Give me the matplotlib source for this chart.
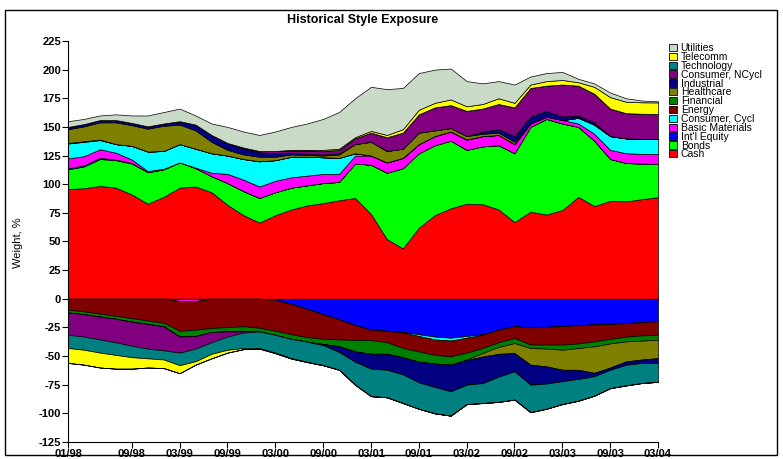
import numpy as np
import matplotlib.pyplot as plt
from matplotlib.patches import Patch, Rectangle

plt.rcParams['font.family'] = ['Liberation Sans', 'DejaVu Sans']
plt.rcParams['axes.unicode_minus'] = False

# months since 01/98, every second month up to 03/04
months = np.arange(0, 75, 2)

tick_months = [0, 8, 14, 20, 26, 32, 38, 44, 50, 56, 62, 68, 74]
tick_labels = ["01/98", "09/98", "03/99", "09/99", "03/00", "09/00", "03/01",
               "09/01", "03/02", "09/02", "03/03", "09/03", "03/04"]

labels = ["Cash", "Bonds", "Int'l Equity", "Basic Materials", "Consumer, Cycl",
          "Energy", "Financial", "Healthcare", "Industrial", "Consumer, NCycl",
          "Technology", "Telecomm", "Utilities"]
colors = ["#FF0000", "#00FF00", "#0000FF", "#FF00FF", "#00FFFF", "#800000",
          "#008000", "#808000", "#000080", "#800080", "#008080", "#FFFF00",
          "#C9DAC6"]

# long (positive) exposures
cash_long = [95.8, 96.5, 98.5, 97, 91, 83, 89, 97, 98, 93, 82, 73, 66.5, 73, 78, 81.5,
             83.5, 86, 88, 74, 52, 44, 62, 73, 79, 83, 82.5, 78, 67, 76, 73.5, 77.5,
             89, 81, 85.4, 85, 87, 88.7]
bonds_long = [17.2, 19, 23.5, 24, 27, 27.5, 24, 22, 16, 14, 19, 21, 21.5, 20, 19, 17.5,
              17.5, 16, 30, 43, 58, 70, 65, 61, 59, 47, 50.5, 56, 60, 74, 83.5, 75.5,
              61, 57, 36.6, 33.5, 31, 29]
intl_long = [1, 1, 1, 0.5, 0.5, 0, 0, 0, 0, 0, 0, 0, 0, 0, 0, 0, 0, 0, 0, 0,
             0, 0, 0, 0, 0, 0, 0, 0, 0, 0, 0, 0, 0, 0, 0, 0, 0, 0]
basic_long = [8.5, 8, 7.5, 6, 3, 1, 0.5, 0, 0.5, 3, 8, 10, 10, 10, 9, 8.5, 8, 7, 7, 8,
              9, 9, 8, 8, 8, 9, 9, 9, 8, 3, 2, 3, 3, 6, 8, 8.5, 8.5, 8.7]
cycl_long = [13, 12.5, 8, 7.5, 12, 17, 15.5, 16, 16.5, 17, 16, 18, 22, 18, 18, 16.5,
             14.5, 14, 2, 0, 0, 0, 0, 0, 0, 0, 0, 0, 0, 0, 0, 0, 5, 8, 12, 13, 13, 13]
energy_long = [0.5, 0.5, 0.5, 0, 0, 0, 0, 0, 0, 0, 0, 0, 0, 0, 0, 0, 0, 0, 0, 0,
               0, 0, 0, 0, 0, 0, 0, 0, 0, 0, 0, 0, 0, 0, 0, 0, 0, 0]
fin_long = [0] * 38
health_long = [12, 13, 15, 19, 18, 20, 22, 17, 16, 10, 5, 4, 4, 3, 2, 1.5, 1.5, 3, 8, 12,
               10, 8, 10, 5, 3, 3, 2, 2, 2, 0, 0, 0, 0, 0, 0, 0, 0, 0]
ind_long = [2, 2, 2, 2, 2, 2, 2, 3, 5, 6, 6, 5, 4, 3, 1.5, 1, 1, 1, 0, 0,
            0, 0, 0, 0, 0, 0, 2, 3, 5, 6, 5, 3, 2, 2, 0, 0, 0, 0]
ncycl_long = [0, 0, 0, 0, 0, 0, 0, 0, 0, 0, 0, 1, 1, 2, 2, 3, 3, 3, 5, 8,
              12, 14, 16, 20, 20, 22, 20, 22, 25, 25, 22, 28, 26, 25, 24, 22, 22, 22]
tech_long = [0] * 38
tel_long = [0, 0, 0, 0, 0, 0, 0, 0, 0, 0, 0, 0, 0, 0, 0.5, 0.5, 1, 1, 1, 1.5,
            2, 3, 4, 4, 5, 4, 4, 5, 4, 3, 4, 4, 3, 6, 10, 10, 10, 10]
util_long = [5, 4.5, 4, 5, 6.5, 9.5, 10, 11, 8, 10, 14, 14, 14, 17, 20, 23, 27, 32, 34, 38.5,
             40, 36, 32, 29, 27, 22, 18, 15, 16, 7, 7, 7, 3, 3, 4, 3, 1.5, 1]

# short (negative) exposures
cash_short = [0] * 38
bonds_short = [0] * 38
intl_short = [0, 0, 0, 0, 0, 0, 0, 0, 0, 0, 0, 0, 0, -1, -4.5, -9, -13.5, -18, -23, -27,
              -28, -29, -31, -33, -34, -32.5, -31, -27, -24, -25, -24.5, -24, -23, -22.5,
              -22, -21.3, -20.5, -19.5]
basic_short = [0, 0, 0, 0, 0, 0, 0, -2, -2, 0, 0, 0, 0, 0, 0, 0, 0, 0, 0, 0,
               0, 0, 0, 0, 0, 0, 0, 0, 0, 0, 0, 0, 0, 0, 0, 0, 0, 0]
cycl_short = [0, 0, 0, 0, 0, 0, 0, 0, 0, 0, 0, 0, 0, 0, 0, 0, 0, 0, 0, 0,
              0, -0.5, -1.5, -2.5, -2.5, -1.5, -0.5, 0, 0, 0, 0, 0, 0, 0, 0, 0, 0, 0]
energy_short = [-9.6, -11, -13, -15, -17, -19, -21, -26, -25, -25.5, -24.7, -24, -25.3, -27,
                -26.5, -24.5, -21.5, -17.5, -13, -9, -10, -13.5, -13.5, -13.5, -13.8, -13,
                -11.5, -11, -10.3, -15, -15.5, -16, -16, -14.7, -13, -11.7, -11.5, -11.9]
fin_short = [-2.4, -2.5, -2.5, -2.5, -3, -3, -3, -5, -5.5, -3.5, -3.8, -4.5, -3.2, -3.5, -4,
             -4, -4.5, -6, -10, -12, -10, -8, -9, -7.5, -7.2, -6, -4.4, -4, -4.4, -3, -3.5,
             -4.5, -4, -4.4, -4, -4.2, -4.5, -4.4]
health_short = [0, 0, 0, 0, 0, 0, 0, 0, 0, 0, 0, 0, 0, 0, 0, 0, 0, 0, 0, 0,
                0, 0, 0, 0, 0, -0.5, -3, -6, -8.7, -14.5, -15.5, -17.4, -19, -23, -21,
                -17.4, -16.5, -16]
ind_short = [0, 0, 0, 0, 0, 0, 0, 0, 0, 0, 0, 0, 0, 0, 0, 0, -1, -5, -9, -13,
             -14, -15, -18, -20.5, -23.3, -21.5, -23.2, -20, -16, -17.5, -15, -10, -8, -3,
             -2, -3, -3, -4.4]
ncycl_short = [-19.4, -19.5, -20, -20.5, -21, -21.5, -21, -14, -11, -9, -4.5, -1, 0, 0, 0,
               0, 0, 0, 0, 0, 0, 0, 0, 0, 0, 0, 0, 0, 0, 0, 0, 0, 0, 0, 0, 0, 0, 0]
tech_short = [-11.6, -11.5, -11.5, -11, -10, -8.5, -8, -11, -11, -10, -11.5, -13.5, -14.5,
              -15.5, -16.7, -17.5, -17.5, -15.5, -20, -24, -24, -25, -23, -23, -21.2, -17,
              -17.4, -22, -24.6, -24, -22, -20, -19, -17, -16, -18, -17.5, -16.3]
tel_short = [-13, -13, -13, -12, -10, -8, -7.5, -7, -3, -4, -2.5, -1, -0.5, -0.5, -0.5,
             -0.3, 0, 0, 0, 0, 0, 0, 0, 0, 0, 0, 0, 0, 0, 0, 0, 0, 0, 0, 0, 0, 0, 0]
util_short = [0] * 38

longs = [cash_long, bonds_long, intl_long, basic_long, cycl_long, energy_long, fin_long,
         health_long, ind_long, ncycl_long, tech_long, tel_long, util_long]
shorts = [cash_short, bonds_short, intl_short, basic_short, cycl_short, energy_short,
          fin_short, health_short, ind_short, ncycl_short, tech_short, tel_short, util_short]

fig = plt.figure(figsize=(7.83, 4.59), dpi=100)
ax = fig.add_axes([68 / 783, 1 - 442 / 459, 590 / 783, 401 / 459])

ax.stackplot(months, longs, colors=colors, edgecolor="black", linewidth=0.5)
ax.stackplot(months, shorts, colors=colors, edgecolor="black", linewidth=0.5)

ax.set_xlim(0, 74)
ax.set_ylim(-125, 225)
ax.set_yticks(np.arange(-125, 226, 25))
ax.set_xticks(tick_months)
ax.set_xticklabels(tick_labels)
ax.tick_params(labelsize=8, length=4, width=0.8, direction="out", pad=1)
for lab in ax.get_xticklabels() + ax.get_yticklabels():
    lab.set_fontweight("bold")
for s in ["top", "right"]:
    ax.spines[s].set_visible(False)

fig.text(363 / 783, 1 - 20 / 459, "Historical Style Exposure", ha="center", va="center",
         fontsize=9, fontweight="bold")
fig.text(18 / 783, 1 - 243 / 459, "Weight, %", rotation=90, ha="center", va="center",
         fontsize=8)

handles = [Patch(facecolor=c, edgecolor="black", linewidth=0.6, label=l)
           for c, l in zip(colors, labels)][::-1]
fig.legend(handles=handles, loc="upper left", bbox_to_anchor=(664 / 783, 1 - 38 / 459),
           frameon=False, fontsize=7.5, handlelength=0.75, handleheight=0.7,
           handletextpad=0.35, labelspacing=-0.11, borderpad=0)

fig.patches.append(Rectangle((5 / 783, 1 - 455 / 459), 772 / 783, 445 / 459,
                             transform=fig.transFigure, fill=False,
                             edgecolor="black", linewidth=1))

fig.savefig("out.png", dpi=100)
